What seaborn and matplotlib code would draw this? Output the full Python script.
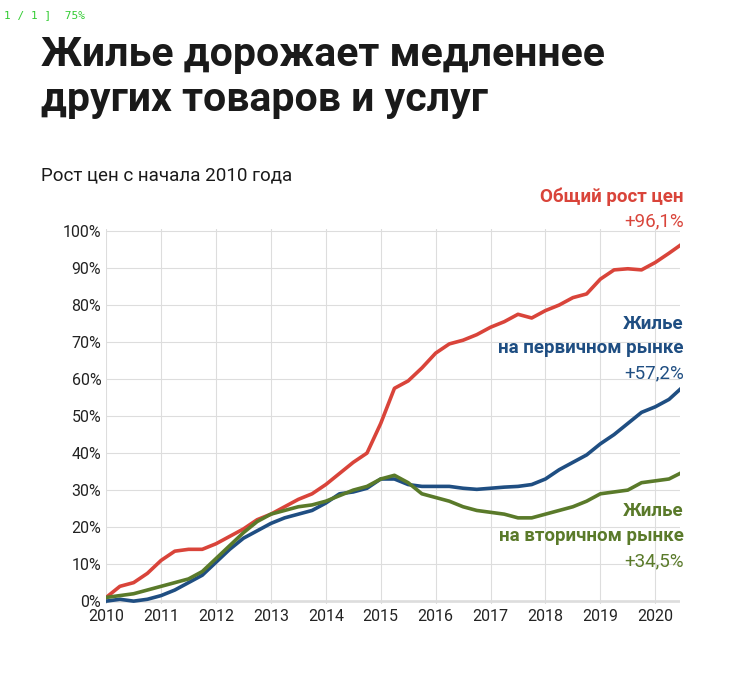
import pandas as pd
import seaborn as sns
import matplotlib.pyplot as plt

years = [2010.0, 2010.25, 2010.5, 2010.75, 2011.0, 2011.25, 2011.5, 2011.75,
         2012.0, 2012.25, 2012.5, 2012.75, 2013.0, 2013.25, 2013.5, 2013.75,
         2014.0, 2014.25, 2014.5, 2014.75, 2015.0, 2015.25, 2015.5, 2015.75,
         2016.0, 2016.25, 2016.5, 2016.75, 2017.0, 2017.25, 2017.5, 2017.75,
         2018.0, 2018.25, 2018.5, 2018.75, 2019.0, 2019.25, 2019.5, 2019.75,
         2020.0, 2020.25, 2020.45]
total = [1, 4, 5, 7.5, 11, 13.5, 14, 14, 15.5, 17.5, 19.5, 22, 23.5, 25.5, 27.5, 29,
         31.5, 34.5, 37.5, 40, 48, 57.5, 59.5, 63, 67, 69.5, 70.5, 72, 74, 75.5, 77.5, 76.5,
         78.5, 80, 82, 83, 87, 89.5, 89.8, 89.5, 91.5, 94, 96.1]
primary = [0, 0.5, 0, 0.5, 1.5, 3, 5, 7, 10.5, 14, 17, 19, 21, 22.5, 23.5, 24.5,
           26.5, 29, 29.5, 30.5, 33, 33, 31.5, 31, 31, 31, 30.5, 30.2, 30.5, 30.8, 31, 31.5,
           33, 35.5, 37.5, 39.5, 42.5, 45, 48, 51, 52.5, 54.5, 57.2]
secondary = [1, 1.5, 2, 3, 4, 5, 6, 8, 11.5, 15, 18.5, 21.5, 23.5, 24.5, 25.5, 26,
             27, 28.5, 30, 31, 33, 34, 32, 29, 28, 27, 25.5, 24.5, 24, 23.5, 22.5, 22.5,
             23.5, 24.5, 25.5, 27, 29, 29.5, 30, 32, 32.5, 33, 34.5]

df = pd.DataFrame({"year": years * 3,
                   "value": total + primary + secondary,
                   "series": ["total"] * len(years) + ["primary"] * len(years) + ["secondary"] * len(years)})
colors = {"total": "#d9443a", "primary": "#1f4e82", "secondary": "#5a7a2a"}

plt.rcParams["font.family"] = "Roboto"
fig = plt.figure(figsize=(7.53, 6.78), dpi=100)
ax = fig.add_axes([0.141, 0.109, 0.762, 0.553])
sns.lineplot(data=df, x="year", y="value", hue="series", palette=colors, linewidth=2.6,
             legend=False, ax=ax)
ax.set_xlim(2010, 2020.45)
ax.set_ylim(-0.8, 100.5)
ax.set_xticks(range(2010, 2021))
ax.set_yticks(range(0, 101, 10))
ax.set_yticklabels([f"{v}%" for v in range(0, 101, 10)])
ax.tick_params(length=0, labelsize=11.5, colors="#222")
ax.grid(True, color="#dddddd", linewidth=0.8)
for s in ax.spines.values():
    s.set_visible(False)
ax.axhline(0, color="#222", linewidth=0.9, zorder=1)
ax.set_xlabel("")
ax.set_ylabel("")

H = 678.0
def put(ypix, text, **kw):
    fig.text(kw.pop("x", 0.908), 1 - ypix / H, text, va="center", **kw)

put(55, "Жилье дорожает медленнее", x=0.054, fontsize=29.5, fontweight="bold", color="#1a1a1a")
put(100, "других товаров и услуг", x=0.054, fontsize=29.5, fontweight="bold", color="#1a1a1a")
put(175, "Рост цен с начала 2010 года", x=0.054, fontsize=13.5, color="#1a1a1a")
fig.text(0.005, 0.985, "1 / 1 ]  75%", fontsize=8, color="#33cc33", family="DejaVu Sans Mono", va="top")

put(197, "Общий рост цен", fontsize=13.5, fontweight="bold", color=colors["total"], ha="right")
put(221, "+96,1%", fontsize=13.5, color=colors["total"], ha="right")
put(324, "Жилье", fontsize=13.5, fontweight="bold", color=colors["primary"], ha="right")
put(348, "на первичном рынке", fontsize=13.5, fontweight="bold", color=colors["primary"], ha="right")
put(373, "+57,2%", fontsize=13.5, color=colors["primary"], ha="right")
put(511, "Жилье", fontsize=13.5, fontweight="bold", color=colors["secondary"], ha="right")
put(536, "на вторичном рынке", fontsize=13.5, fontweight="bold", color=colors["secondary"], ha="right")
put(561, "+34,5%", fontsize=13.5, color=colors["secondary"], ha="right")

fig.savefig("out.png", dpi=100)
